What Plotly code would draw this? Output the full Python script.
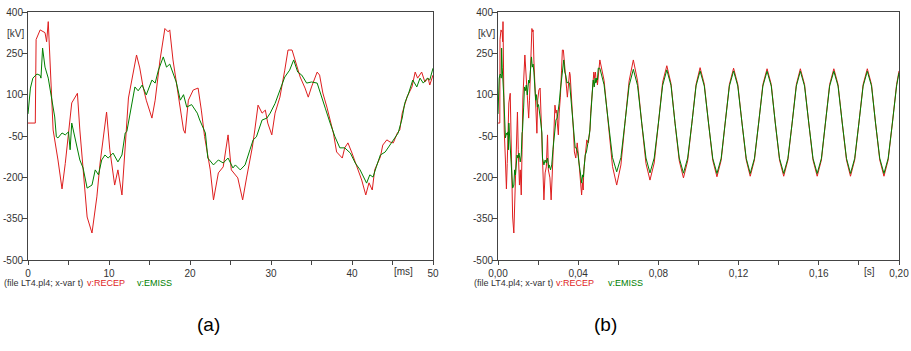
import plotly.graph_objects as go

W, H = 911, 351

# ---------------- data (panel a: first 50 ms, t in ms, values in kV) ----------------
recep_t = [0, 0.9, 1.0, 1.5, 2.1, 2.3, 2.5, 2.9, 3.1, 3.7, 4.2, 4.6, 5.4, 6.1, 6.4, 7.3, 7.9, 8.5, 8.9, 9.7,
           10.1, 10.7, 11.1, 11.6, 12.0, 12.4, 13.4, 13.8, 14.2, 14.6, 15.3, 15.7, 16.3, 16.9, 17.3, 17.5, 17.9,
           18.3, 18.8, 19.2, 19.4, 19.8, 20.4, 21.0, 21.4, 21.8, 22.5, 22.9, 23.5, 24.1, 24.7, 25.1, 25.9, 26.5,
           27.0, 27.7, 28.0, 28.4, 28.9, 29.3, 29.6, 30.1, 30.5, 31.1, 31.7, 32.1, 32.6, 33.0, 33.6, 34.2, 34.6,
           35.0, 35.7, 36.0, 36.4, 36.9, 37.3, 37.7, 38.1, 38.8, 39.1, 39.5, 40.0, 40.6, 41.2, 41.7, 42.1, 42.5,
           42.8, 43.5, 43.8, 44.3, 44.7, 45.1, 45.6, 45.9, 46.2, 46.8, 47.4, 47.8, 48.1, 48.6, 49.0, 49.4, 49.6, 50.0]
recep_v = [-3, -3, 300, 335, 325, 292, 365, 80, -28, -137, -242, -150, 70, 105, -28, -344, -402, -271, -148, 37,
           -100, -228, -173, -264, -100, 88, 244, 197, 129, 80, 15, 80, 226, 340, 328, 335, 226,
           142, 56, -28, -40, 80, 117, 124, 44, -52, -173, -282, -184, -162, -46, -173, -202, -282,
           -199, -90, -28, 62, 33, 44, -3, -46, 33, 91, 189, 262, 262, 219, 164, 124, 91,
           128, 182, 171, 106, 55, 8, -39, -108, -130, -93, -75, -112, -162, -210, -264, -220, -246,
           -173, -126, -83, -64, -72, -75, -39, -28, 33, 92, 128, 182, 160, 182, 146, 160, 135, 171]

emiss_t = [0, 0.3, 0.6, 1.1, 1.5, 1.6, 1.8, 2.1, 2.5, 2.9, 3.3, 3.5, 3.7, 4.2, 4.6, 5.0, 5.2, 5.4, 5.6, 6.0,
           6.4, 6.8, 7.3, 7.9, 8.3, 8.7, 9.1, 9.5, 9.9, 10.5, 11.1, 11.6, 12.0, 12.2, 12.8, 13.2, 13.6, 14.1,
           14.6, 15.3, 15.7, 16.1, 16.7, 17.1, 17.5, 17.9, 18.3, 18.8, 19.2, 19.6, 20.2, 20.9, 21.2, 21.9, 22.2,
           22.9, 23.5, 24.1, 24.7, 25.3, 25.6, 26.2, 26.8, 27.4, 27.8, 28.2, 28.9, 29.5, 29.9, 30.5, 31.1, 31.7,
           32.3, 32.8, 33.3, 33.8, 34.4, 35.0, 35.7, 36.3, 36.7, 37.3, 37.9, 38.5, 39.1, 39.8, 40.4, 41.0, 41.4,
           41.8, 42.2, 42.6, 43.0, 43.5, 44.1, 44.7, 45.1, 45.7, 46.2, 46.5, 47.0, 47.5, 48.0, 48.4, 48.8, 49.3,
           49.6, 50.0]
emiss_v = [30, 124, 160, 175, 170, 160, 269, 200, 160, 91, 19, -53, -57, -39, -46, -35, -100, -3, -30, -75,
           -137, -166, -239, -228, -173, -191, -137, -119, -130, -112, -144, -119, -39, -34, 55, 128, 114, 135,
           99, 153, 142, 189, 237, 200, 211, 182, 146, 80, 100, 55, 64, 33, 8, -39, -130,
           -155, -137, -148, -130, -166, -155, -173, -155, -100, -64, -53, 8, 15, 33, 68, 117, 164,
           189, 226, 182, 171, 142, 146, 142, 91, 51, -3, -53, -93, -93, -112, -148, -173, -199,
           -221, -191, -199, -162, -119, -108, -83, -64, -39, 15, 68, 106, 153, 128, 160, 142, 160,
           153, 196]

# ---------------- data (panel b: steady part after 50 ms, t in s) ----------------
steady_t = [0.0508, 0.0529, 0.0550, 0.0571, 0.0592, 0.0613, 0.0633, 0.0654,
            0.0675, 0.0696, 0.0717, 0.0738, 0.0758, 0.0779, 0.0800, 0.0821,
            0.0842, 0.0863, 0.0883, 0.0904, 0.0925, 0.0946, 0.0967, 0.0988,
            0.1008, 0.1029, 0.1050, 0.1071, 0.1092, 0.1113, 0.1133, 0.1154,
            0.1175, 0.1196, 0.1217, 0.1238, 0.1258, 0.1279, 0.1300, 0.1321,
            0.1342, 0.1363, 0.1383, 0.1404, 0.1425, 0.1446, 0.1467, 0.1488,
            0.1508, 0.1529, 0.1550, 0.1571, 0.1592, 0.1613, 0.1633, 0.1654,
            0.1675, 0.1696, 0.1717, 0.1738, 0.1758, 0.1779, 0.1800, 0.1821,
            0.1842, 0.1863, 0.1883, 0.1904, 0.1925, 0.1946, 0.1967, 0.1988, 0.2000]
recep_steady = [226, 152, -5, -160, -228, -155, -5, 150,
                226, 150, -5, -150, -210, -148, -5, 145,
                205, 140, -4, -140, -202, -140, -4, 138,
                198, 138, -3, -138, -198, -138, -3, 137,
                196, 137, -3, -137, -196, -137, -3, 137,
                194, 137, -3, -137, -196, -137, -3, 137,
                194, 137, -3, -137, -196, -137, -3, 137,
                194, 137, -3, -137, -196, -137, -3, 137,
                194, 137, -3, -137, -196, -137, -3, 137, 186]
emiss_steady = [196, 136, -3, -128, -180, -128, -3, 133,
                192, 133, -3, -130, -184, -130, -3, 133,
                190, 133, -3, -130, -185, -130, -3, 132,
                186, 131, -3, -131, -186, -131, -3, 131,
                186, 131, -3, -131, -186, -131, -3, 131,
                185, 131, -3, -131, -186, -131, -3, 131,
                185, 131, -3, -131, -186, -131, -3, 131,
                185, 131, -3, -131, -186, -131, -3, 131,
                185, 131, -3, -131, -186, -131, -3, 131, 180]

y_ticks = [400, 250, 100, -50, -200, -350, -500]
y_text = ["400", "250", "100", "-50", "-200", "-350", "-500"]
xa_ticks = [0, 5, 10, 15, 20, 25, 30, 35, 40, 45, 50]
xa_text = ["0", "", "10", "", "20", "", "30", "", "40", "", "50"]
xb_ticks = [0, 0.02, 0.04, 0.06, 0.08, 0.10, 0.12, 0.14, 0.16, 0.18, 0.20]
xb_text = ["0,00", "", "0,04", "", "0,08", "", "0,12", "", "0,16", "", "0,20"]

RED = "rgb(222,30,30)"
GREEN = "rgb(0,128,0)"
AX = "#444444"
TXT = "#333333"
FONT = "Liberation Sans"


def px(x):
    return x / W


def py(y):
    return 1 - y / H


fig = go.Figure()
# panel a
fig.add_trace(go.Scatter(x=recep_t, y=recep_v, mode="lines", line=dict(color=RED, width=1),
                         xaxis="x", yaxis="y", name="v:RECEP"))
fig.add_trace(go.Scatter(x=emiss_t, y=emiss_v, mode="lines", line=dict(color=GREEN, width=1),
                         xaxis="x", yaxis="y", name="v:EMISS"))
# panel b
fig.add_trace(go.Scatter(x=[t / 1000 for t in recep_t] + steady_t, y=recep_v + recep_steady, mode="lines",
                         line=dict(color=RED, width=1), xaxis="x2", yaxis="y2", name="v:RECEP"))
fig.add_trace(go.Scatter(x=[t / 1000 for t in emiss_t] + steady_t, y=emiss_v + emiss_steady, mode="lines",
                         line=dict(color=GREEN, width=1), xaxis="x2", yaxis="y2", name="v:EMISS"))

axis_common = dict(showline=True, linecolor=AX, linewidth=1, mirror=True, showgrid=False, zeroline=False,
                   automargin=False, ticks="outside", tickcolor=AX, tickwidth=1,
                   tickfont=dict(family=FONT, size=10, color=TXT))

ydom = [py(260), py(12)]
fig.update_layout(
    width=W, height=H, margin=dict(l=0, r=0, t=0, b=0, autoexpand=False),
    paper_bgcolor="white", plot_bgcolor="white", showlegend=False,
    xaxis=dict(domain=[px(28), px(433)], range=[0, 50], tickvals=xa_ticks, ticktext=xa_text,
               ticklen=4, anchor="y", **axis_common),
    yaxis=dict(domain=ydom, range=[-500, 400], tickvals=y_ticks, ticktext=y_text, ticklen=5,
               ticklabelstandoff=-3, anchor="x", **axis_common),
    xaxis2=dict(domain=[px(498), px(899)], range=[0, 0.2], tickvals=xb_ticks, ticktext=xb_text,
                ticklen=4, anchor="y2", **axis_common),
    yaxis2=dict(domain=ydom, range=[-500, 400], tickvals=y_ticks, ticktext=y_text, ticklen=5,
                ticklabelstandoff=-3, anchor="x2", **axis_common),
)

ann = []


def text(x, y, s, color=TXT, size=10, xanchor="left"):
    ann.append(dict(x=px(x), y=py(y), xref="paper", yref="paper", text=s, showarrow=False,
                    xanchor=xanchor, yanchor="middle", font=dict(family=FONT, size=size, color=color)))


# units
text(26, 33, "[kV]", xanchor="right")
text(497, 33, "[kV]", xanchor="right")
text(403, 271, "[ms]", xanchor="center")
text(869, 271, "[s]", xanchor="center")
# legend rows
text(2, 283, "(file LT4.pl4; x-var t)", size=9)
text(85, 283, "v:RECEP", color=RED, size=9)
text(135, 283, "v:EMISS", color=GREEN, size=9)
text(472, 283, "(file LT4.pl4; x-var t)", size=9)
text(554, 283, "v:RECEP", color=RED, size=9)
text(606, 283, "v:EMISS", color=GREEN, size=9)
# captions
text(208, 324, "(a)", color="black", size=19, xanchor="center")
text(605, 324, "(b)", color="black", size=19, xanchor="center")

fig.update_layout(annotations=ann)
fig.write_html("out.html")
